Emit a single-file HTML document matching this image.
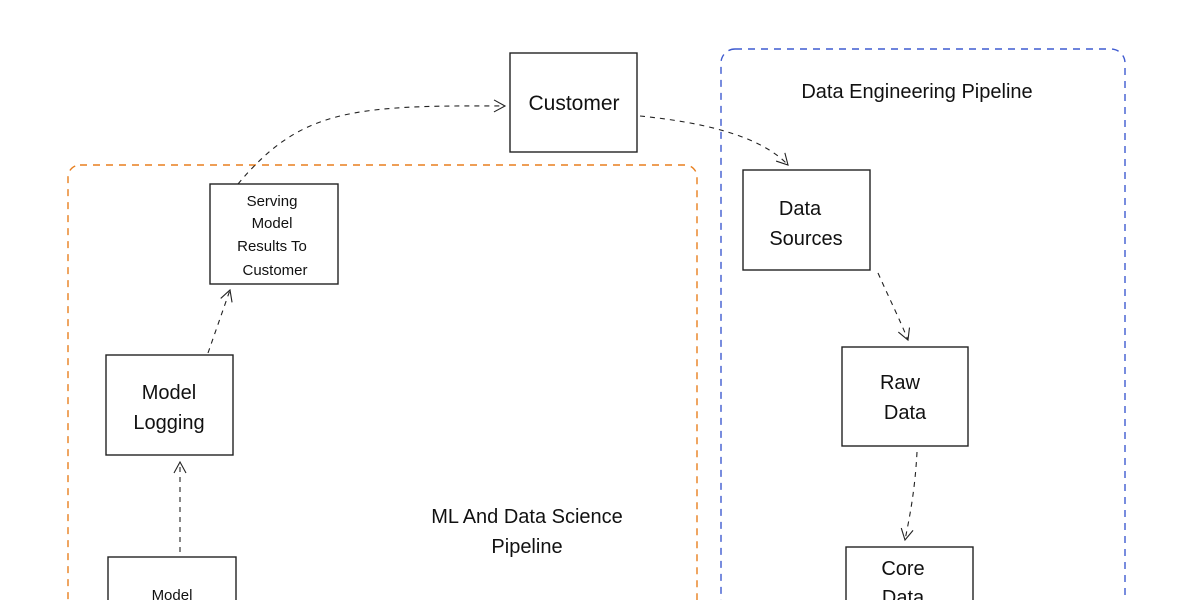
<!DOCTYPE html>
<html><head><style>
html,body{margin:0;padding:0;background:#fff;width:1200px;height:600px;overflow:hidden;}
svg{display:block}
text{font-family:"Comic Sans MS","Liberation Sans",sans-serif;fill:#111;text-anchor:middle}
</style></head><body>
<svg width="1200" height="600" viewBox="0 0 1200 600" xmlns="http://www.w3.org/2000/svg">
<defs>
<marker id="a" markerWidth="14" markerHeight="14" refX="12" refY="7" orient="auto" markerUnits="userSpaceOnUse">
<path d="M1,1 L12,7 L1,13" fill="none" stroke="#222" stroke-width="1.1"/>
</marker>
</defs>
<rect x="68" y="165" width="629" height="460" rx="12" fill="none" stroke="#e87f1e" stroke-width="1.4" stroke-dasharray="7 6"/>
<rect x="721" y="49" width="404" height="580" rx="14" fill="none" stroke="#3f5bd0" stroke-width="1.4" stroke-dasharray="7 6"/>
<g fill="none" stroke="#222" stroke-width="1.4">
<rect x="510" y="53" width="127" height="99"/>
<rect x="210" y="184" width="128" height="100"/>
<rect x="106" y="355" width="127" height="100"/>
<rect x="108" y="557" width="128" height="80"/>
<rect x="743" y="170" width="127" height="100"/>
<rect x="842" y="347" width="126" height="99"/>
<rect x="846" y="547" width="127" height="80"/>
</g>
<g fill="none" stroke="#222" stroke-width="1.1" stroke-dasharray="5 5" marker-end="url(#a)">
<path d="M238,184 C300,110 350,105 505,106"/>
<path d="M640,116 C700,122 760,135 788,165"/>
<path d="M878,273 C890,300 900,320 908,340"/>
<path d="M917,452 C915,490 910,515 905,540"/>
<path d="M180,552 L180,462"/>
<path d="M208,353 L230,290"/>
</g>
<text x="574" y="110" font-size="21">Customer</text>
<text x="272" y="206" font-size="15">Serving</text>
<text x="272" y="228" font-size="15">Model</text>
<text x="272" y="251" font-size="15">Results To</text>
<text x="275" y="275" font-size="15">Customer</text>
<text x="169" y="399" font-size="20">Model</text>
<text x="169" y="429" font-size="20">Logging</text>
<text x="172" y="600" font-size="15">Model</text>
<text x="800" y="215" font-size="20">Data</text>
<text x="806" y="245" font-size="20">Sources</text>
<text x="900" y="389" font-size="20">Raw</text>
<text x="905" y="419" font-size="20">Data</text>
<text x="903" y="575" font-size="20">Core</text>
<text x="903" y="604" font-size="20">Data</text>
<text x="917" y="98" font-size="20">Data Engineering Pipeline</text>
<text x="527" y="523" font-size="20">ML And Data Science</text>
<text x="527" y="553" font-size="20">Pipeline</text>
</svg>
</body></html>
